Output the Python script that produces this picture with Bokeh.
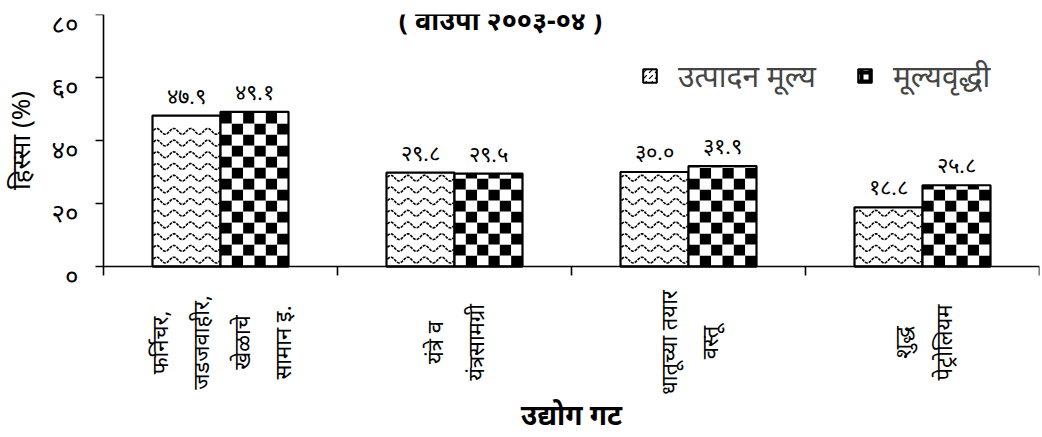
import numpy as np
from bokeh.plotting import figure
from bokeh.models import (ColumnDataSource, LabelSet, Label, FixedTicker, Range1d,
                          Legend, LegendItem)
from bokeh.core.properties import value
from bokeh.embed import file_html
from bokeh.resources import INLINE

# ---------------- data ----------------
category_lines = [
    ["फर्निचर,", "जडजवाहीर,", "खेळाचे", "सामान इ."],
    ["यंत्रे व", "यंत्रसामग्री"],
    ["धातूच्या तयार", "वस्तू"],
    ["शुद्ध", "पेट्रोलियम"],
]
production_value = [47.9, 29.8, 30.0, 18.8]   # उत्पादन मूल्य
value_added = [49.1, 29.5, 31.9, 25.8]        # मूल्यवृद्धी
series_names = ["उत्पादन मूल्य", "मूल्यवृद्धी"]
y_ticks = [0, 20, 40, 60, 80]
y_tick_labels = ["०", "२०", "४०", "६०", "८०"]
title_text = "( वाउपा २००३-०४ )"
x_title = "उद्योग गट"
y_title = "हिस्सा (%)"

DEV = str.maketrans("0123456789", "०१२३४५६७८९")
FONT = "Noto Sans"

# ---------------- layout (pixels) ----------------
W, H = 1042, 437
LEFT, RIGHT, TOP = 103, 1039, 14
ZERO_PX = 266                      # pixel row of the x axis (value 0)
YMAX = 80
px_per_unit = (ZERO_PX - TOP) / YMAX
y_lo = -(H - ZERO_PX) / px_per_unit   # frame extends below the axis to hold labels

n = len(category_lines)
xc = np.arange(n) + 0.5
px_per_x = (RIGHT - LEFT) / n
x_lo = -LEFT / px_per_x               # frame extends left of the axis to hold labels
bw = 68 / px_per_x                    # bar width in x units

src = ColumnDataSource(dict(
    xa=xc - bw / 2, xb=xc + bw / 2,
    a=production_value, b=value_added,
    a_lab=[f"{v:.1f}".translate(DEV) for v in production_value],
    b_lab=[f"{v:.1f}".translate(DEV) for v in value_added],
    zero=[0.0] * n,
))

p = figure(width=W, height=H, output_backend="svg", toolbar_location=None,
           x_range=Range1d(x_lo, n), y_range=Range1d(y_lo, YMAX),
           min_border_left=0, min_border_right=W - RIGHT, min_border_top=TOP,
           min_border_bottom=0)
p.outline_line_color = None
p.grid.visible = False
p.background_fill_color = "white"
p.border_fill_color = "white"

# ---- series A: white bars with dotted wave lines ----
p.vbar(x="xa", top="a", width=bw, source=src, fill_color="white", line_color=None)
wave_dy = 11.7 / px_per_unit
amp = 2.9 / px_per_unit
wl = bw / 4
wx, wy = [], []
for i, top in enumerate(production_value):
    left = xc[i] - bw
    yc = wave_dy * 0.55
    while yc + amp < top - 0.5:
        xs = np.linspace(left + 0.004, left + bw - 0.004, 80)
        wx.append(list(xs))
        wy.append(list(yc + amp * np.sin(2 * np.pi * (xs - left) / wl)))
        yc += wave_dy
p.multi_line(xs=wx, ys=wy, line_color="black", line_width=1.6, line_dash="3 1")
p.vbar(x="xa", top="a", width=bw, source=src, fill_color=None, line_color="black", line_width=2.2)

# ---- series B: checkerboard bars ----
cw = bw / 6
ch = 11 / px_per_unit
ql, qr, qb, qt, qc = [], [], [], [], []
for i, top in enumerate(value_added):
    left = xc[i]
    r = 0
    while r * ch < top:
        for k in range(6):
            ql.append(left + k * cw)
            qr.append(left + (k + 1) * cw)
            qb.append(r * ch)
            qt.append(min((r + 1) * ch, top))
            qc.append("black" if (k + r) % 2 == 1 else "white")
        r += 1
p.quad(left=ql, right=qr, bottom=qb, top=qt, fill_color=qc, line_color=None)
p.vbar(x="xb", top="b", width=bw, source=src, fill_color=None, line_color="black", line_width=2.2)

# legend-only glyphs (zero height)
la = p.vbar(x="xa", top="zero", width=bw, source=src, fill_color="white", line_color="black",
            line_width=2, hatch_pattern="right_diagonal_dash", hatch_scale=6, hatch_weight=1.2)
lb = p.vbar(x="xb", top="zero", width=bw, source=src, fill_color="white", line_color="black",
            line_width=2, hatch_pattern="cross", hatch_scale=9, hatch_weight=4)

# value labels
for col, xcol, top in (("a_lab", "xa", "a"), ("b_lab", "xb", "b")):
    p.add_layout(LabelSet(x=xcol, y=top, text=col, source=src,
                          y_offset=7, text_align="center", text_baseline="bottom",
                          text_font=FONT, text_font_size="22px", text_color="black"))

# category labels (vertical, lines side by side)
spacing = 41 / px_per_x
lx, lt = [], []
for i, lines in enumerate(category_lines):
    m = len(lines)
    for j, t in enumerate(lines):
        lx.append(xc[i] + (j - (m - 1) / 2) * spacing)
        lt.append(t)
cat_y = -(342 - ZERO_PX) / px_per_unit
p.text(x=lx, y=[cat_y] * len(lx), text=lt, angle=np.pi / 2,
       text_align="center", text_baseline="middle",
       text_font=value(FONT), text_font_size="22px", text_color="black")

# x axis title
p.text(x=[n / 2], y=[-(413 - ZERO_PX) / px_per_unit], text=[x_title],
       text_align="center", text_baseline="middle", text_font=value(FONT),
       text_font_size="28px", text_font_style="bold", text_color="black")

# y axis title (rotated)
p.text(x=[(19 - LEFT) / px_per_x], y=[(ZERO_PX - 140) / px_per_unit], text=[y_title],
       angle=np.pi / 2, text_align="center", text_baseline="middle",
       text_font=value(FONT), text_font_size="26px", text_color="black")

# y tick labels (sitting slightly below their ticks, as in the original)
p.text(x=[(78 - LEFT) / px_per_x] * len(y_ticks),
       y=[t - 8 / px_per_unit for t in y_ticks], text=y_tick_labels,
       text_align="right", text_baseline="middle",
       text_font=value(FONT), text_font_size="26px", text_color="black")

# axes
for ax in (p.xaxis[0], p.yaxis[0]):
    ax.axis_line_color = "black"
    ax.major_tick_line_color = "black"
    ax.axis_line_width = 1.6
    ax.major_tick_line_width = 1.6
    ax.minor_tick_line_color = None
    ax.major_tick_in = 0
    ax.major_label_text_font_size = "0px"

p.yaxis.fixed_location = 0
p.yaxis.ticker = FixedTicker(ticks=y_ticks)
p.yaxis.bounds = (0, YMAX)
p.yaxis.major_label_overrides = {t: "" for t in y_ticks}
p.yaxis.major_tick_out = 8

p.xaxis.fixed_location = 0
p.xaxis.ticker = FixedTicker(ticks=list(range(n + 1)))
p.xaxis.bounds = (0, n)
p.xaxis.major_label_overrides = {i: "" for i in range(n + 1)}
p.xaxis.major_tick_out = 9

# title
p.add_layout(Label(x=500, y=H - 0, x_units="screen", y_units="screen", text=title_text,
                   text_align="center", text_baseline="top",
                   text_font=FONT, text_font_size="27px", text_font_style="bold",
                   text_color="black"))

legend = Legend(items=[LegendItem(label=series_names[0], renderers=[la]),
                       LegendItem(label=series_names[1], renderers=[lb])],
                location=(641, H - 96), orientation="horizontal",
                border_line_color=None, background_fill_alpha=0,
                padding=0, margin=0, spacing=40, label_standoff=20,
                glyph_width=17, glyph_height=17,
                label_text_font=FONT, label_text_font_size="30px")
p.add_layout(legend)

open("out.html", "w").write(file_html(p, INLINE))
